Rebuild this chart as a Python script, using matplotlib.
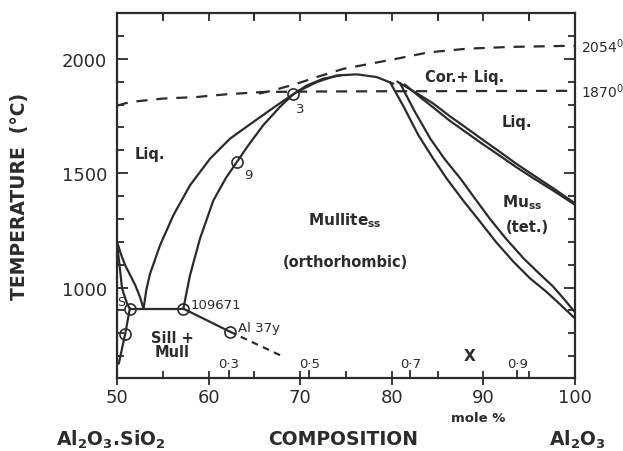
import matplotlib
matplotlib.use("Agg")
import matplotlib.pyplot as plt
from matplotlib.ticker import MultipleLocator

plt.rcParams['font.family'] = ['DejaVu Sans']
plt.rcParams['mathtext.default'] = 'bf'

ink = '#2b2b2b'

# liquidus / solidus curves, mole % Al2O3 vs temperature (C)
v_left_x = [50.0, 50.4, 50.9, 51.5, 52.0, 52.5, 52.9]
v_left_t = [1201, 1150, 1097, 1050, 1010, 960, 908]

outer_x = [52.9, 53.2, 53.6, 54.7, 56.15, 57.97, 60.15, 62.34, 64.88, 67.43, 69.62,
           71.8, 73.98, 76.17, 78.35, 80.17]
outer_t = [908, 990, 1060, 1185, 1316, 1447, 1563, 1651, 1724, 1796, 1855,
           1898, 1927, 1932, 1920, 1891]

inner_x = [57.24, 57.97, 59.06, 60.51, 61.9, 63.07, 64.3, 65.97, 67.79, 69.25,
           70.71, 72.52, 74.5]
inner_t = [908, 1054, 1214, 1380, 1480, 1548, 1620, 1710, 1790, 1845,
           1883, 1913, 1928]

steep_a_x = [79.8, 81.3, 82.9, 84.5, 86.0, 87.8, 89.6, 91.4, 93.3, 95.1, 96.9, 98.5, 100.0]
steep_a_t = [1898, 1790, 1666, 1565, 1476, 1380, 1290, 1198, 1112, 1040, 981, 922, 865]
steep_b_x = [80.9, 82.5, 84.2, 85.8, 87.5, 89.1, 90.7, 92.5, 94.4, 96.0, 97.6, 98.8, 100.0]
steep_b_t = [1893, 1770, 1651, 1560, 1476, 1388, 1301, 1212, 1127, 1065, 1005, 950, 892]

upper_a_x = [80.6, 82.5, 84.5, 86.3, 88.2, 90.0, 91.8, 93.6, 95.5, 97.7, 100.0]
upper_a_t = [1900, 1855, 1805, 1750, 1696, 1644, 1593, 1541, 1490, 1432, 1368]
upper_b_x = [81.4, 83.0, 84.5, 86.3, 88.2, 90.0, 91.8, 93.6, 95.5, 97.7, 100.0]
upper_b_t = [1888, 1835, 1788, 1730, 1676, 1625, 1576, 1526, 1477, 1422, 1362]

# subsolidus lines
eut_x = [51.4, 57.24]
eut_t = [908, 908]
slope_x = [57.24, 62.3]
slope_t = [908, 808]
slope_dash_x = [62.3, 68.1]
slope_dash_t = [808, 699]
l2_x = [50.0, 50.3, 50.55, 51.1, 51.4]
l2_t = [1192, 1090, 996, 930, 908]
l3_x = [51.4, 50.9, 50.2]
l3_t = [908, 799, 668]

# dashed lines
low_dash_x = [50.0, 51.4, 55.0, 58.7, 62.0, 66.0, 72.0, 79.0, 100.0]
low_dash_t = [1795, 1811, 1826, 1833, 1845, 1855, 1857, 1858, 1860]
up_dash_x = [65.5, 67.06, 69.62, 71.8, 74.7, 77.6, 80.5, 84.0, 88.2, 93.0, 100.0]
up_dash_t = [1848, 1862, 1891, 1920, 1956, 1978, 2000, 2028, 2044, 2052, 2057]

# sample points
pt_x = [51.4, 50.9, 57.24, 62.3, 63.07, 69.25]
pt_t = [908, 799, 908, 808, 1548, 1845]

# secondary composition scale X
x_scale_pos = [62.2, 71.0, 82.0, 93.7]
x_scale_lab = ['0·3', '0·5', '0·7', '0·9']

fig = plt.figure(figsize=(6.23, 4.52), dpi=100)
ax = fig.add_axes([0.1878, 0.1615, 0.7352, 0.8075])

lw = 1.6
for xs, ts in [(v_left_x, v_left_t), (outer_x, outer_t), (inner_x, inner_t),
               (steep_a_x, steep_a_t), (steep_b_x, steep_b_t),
               (upper_a_x, upper_a_t), (upper_b_x, upper_b_t),
               (eut_x, eut_t), (slope_x, slope_t), (l2_x, l2_t), (l3_x, l3_t)]:
    ax.plot(xs, ts, color=ink, lw=lw, solid_capstyle='round', solid_joinstyle='round')

ax.plot(slope_dash_x, slope_dash_t, color=ink, lw=lw, dashes=(3, 2.5))
ax.plot(low_dash_x, low_dash_t, color=ink, lw=lw, dashes=(5, 4))
ax.plot(up_dash_x, up_dash_t, color=ink, lw=lw, dashes=(5, 4))

ax.plot(pt_x, pt_t, 'o', ms=8, mfc='none', mec=ink, mew=1.2)

ax.set_xlim(50, 100)
ax.set_ylim(605, 2200)

for s in ax.spines.values():
    s.set_linewidth(1.6)
    s.set_color(ink)

ax.xaxis.set_major_locator(MultipleLocator(10))
ax.xaxis.set_minor_locator(MultipleLocator(5))
ax.yaxis.set_minor_locator(MultipleLocator(100))
ax.set_yticks([1000, 1500, 2000])
ax.tick_params(axis='y', which='both', direction='in', left=True, right=True,
               color=ink, width=1.3, labelsize=13, labelcolor=ink, pad=7)
ax.tick_params(axis='y', which='major', length=8)
ax.tick_params(axis='y', which='minor', length=5)
ax.tick_params(axis='x', which='major', direction='inout', length=10, width=1.3,
               color=ink, labelsize=13, labelcolor=ink, pad=2, top=False)
ax.tick_params(axis='x', which='minor', direction='in', length=5, width=1.3,
               color=ink, top=True)

# top ticks every 5
top = ax.secondary_xaxis('top')
top.set_xticks([55, 60, 65, 70, 75, 80, 85, 90, 95])
top.tick_params(direction='in', length=6, width=1.3, color=ink, labeltop=False)
top.spines['top'].set_visible(False)

# X scale ticks and labels
for xp, lab in zip(x_scale_pos, x_scale_lab):
    ax.plot([xp, xp], [605, 635], color=ink, lw=1.3)
    ax.text(xp, 668, lab, ha='center', va='center', fontsize=9.5, color=ink)
ax.text(88.5, 703, 'X', ha='center', va='center', fontsize=11, color=ink, fontweight='bold')

# region labels
tk = dict(color=ink, fontweight='bold', ha='center', va='center')
ax.text(53.6, 1585, 'Liq.', fontsize=10.5, **tk)
ax.text(88.0, 1922, 'Cor.+ Liq.', fontsize=10.5, **tk)
ax.text(93.7, 1725, 'Liq.', fontsize=10.5, **tk)
ax.text(74.9, 1297, 'Mullite$_{ss}$', fontsize=11, **tk)
ax.text(74.9, 1113, '(orthorhombic)', fontsize=10.5, **tk)
ax.text(94.2, 1375, 'Mu$_{ss}$', fontsize=11, **tk)
ax.text(94.8, 1266, '(tet.)', fontsize=10.5, **tk)
ax.text(56.0, 752, 'Sill +\nMull', fontsize=10.5, linespacing=0.9, **tk)
ax.text(58.0, 925, '109671', fontsize=9.5, color=ink, ha='left', va='center')
ax.text(63.2, 824, 'Al 37y', fontsize=9.5, color=ink, ha='left', va='center')
ax.text(50.4, 938, 'S', fontsize=9, color=ink, ha='center', va='center')
ax.text(70.0, 1782, '3', fontsize=9.5, color=ink, ha='center', va='center')
ax.text(64.3, 1495, '9', fontsize=9.5, color=ink, ha='center', va='center')

# right side temperature labels
ax.text(100.6, 2057, '2054$^{\\mathrm{0}}$', fontsize=10, color=ink, ha='left',
        va='center', clip_on=False)
ax.text(100.6, 1860, '1870$^{\\mathrm{0}}$', fontsize=10, color=ink, ha='left',
        va='center', clip_on=False)

ax.set_ylabel('TEMPERATURE  (°C)', fontsize=13.5, fontweight='bold', color=ink,
              labelpad=24)
fig.text(478 / 623, 1 - 419 / 452, 'mole %', fontsize=9.5, fontweight='bold',
         color=ink, ha='center', va='center')
fig.text(343 / 623, 1 - 440 / 452, 'COMPOSITION', fontsize=13.5, fontweight='bold',
         color=ink, ha='center', va='center')
fig.text(111 / 623, 1 - 440 / 452, 'Al$_2$O$_3$.SiO$_2$', fontsize=13.5,
         fontweight='bold', color=ink, ha='center', va='center')
fig.text(577 / 623, 1 - 440 / 452, 'Al$_2$O$_3$', fontsize=13.5, fontweight='bold',
         color=ink, ha='center', va='center')

fig.savefig('out.png', dpi=100)
